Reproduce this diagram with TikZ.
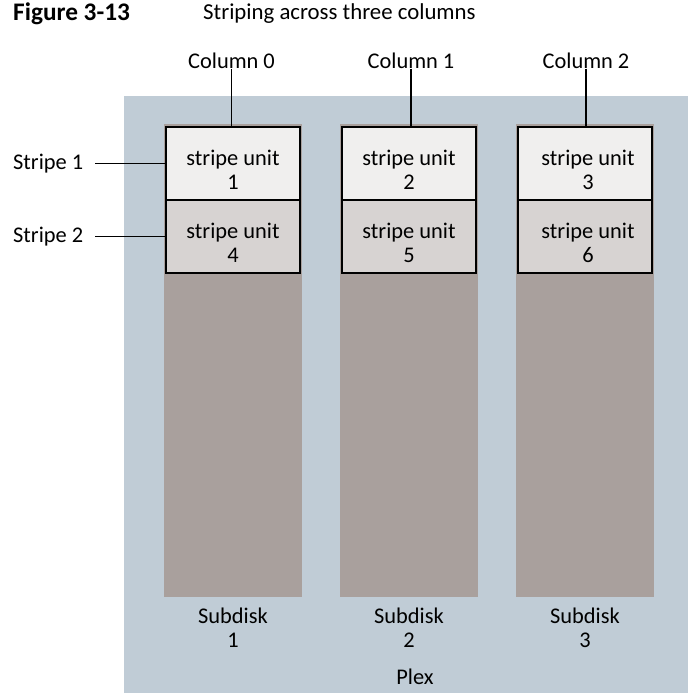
\documentclass[tikz,border=0pt]{standalone}
\usepackage{fontspec}
\setmainfont{Carlito}
\begin{document}
\begin{tikzpicture}[x=1pt, y=-1pt,
	lbl/.style={font=\fontsize{22.4}{24}\selectfont, inner sep=0pt, align=center},
	unitbox/.style={shape=rectangle, draw=black, line width=2.2pt, minimum width=134pt, minimum height=73pt, inner sep=0pt},
	unitA/.style={unitbox, fill=unitlight},
	unitB/.style={unitbox, fill=unitdark},
	subdisk/.style={shape=rectangle, fill=diskgray, minimum width=138pt, minimum height=473pt, inner sep=0pt},
	wire/.style={draw=black, line width=1.5pt}]
	\definecolor{plexblue}{HTML}{C0CCD6}
	\definecolor{diskgray}{HTML}{A9A09D}
	\definecolor{unitlight}{HTML}{F0EFEE}
	\definecolor{unitdark}{HTML}{D7D3D2}
	\useasboundingbox (0,0) rectangle (688,693);
	% Paths, nodes and wires:
	\node[shape=rectangle, fill=plexblue, minimum width=564pt, minimum height=597pt, inner sep=0pt] (plex) at (406, 394.5){};
	\node[anchor=west, font=\fontsize{25.3}{28}\selectfont\bfseries, inner sep=0pt] (fignum) at (13, 14){Figure 3-13};
	\node[anchor=west, font=\fontsize{22.8}{26}\selectfont, inner sep=0pt] (title) at (203, 14){Striping across three columns};
	\node[subdisk] (disk1) at (233, 360.5){};
	\node[subdisk] (disk2) at (409, 360.5){};
	\node[subdisk] (disk3) at (585, 360.5){};
	\node[unitA] (su1) at (233, 163.5){};
	\node[unitA] (su2) at (409, 163.5){};
	\node[unitA] (su3) at (585, 163.5){};
	\node[unitB] (su4) at (233, 236.5){};
	\node[unitB] (su5) at (409, 236.5){};
	\node[unitB] (su6) at (585, 236.5){};
	\node[lbl] (su1txt) at (233, 170){stripe unit\\1};
	\node[lbl] (su2txt) at (409, 170){stripe unit\\2};
	\node[lbl] (su3txt) at (588, 170){stripe unit\\3};
	\node[lbl] (su4txt) at (233, 243){stripe unit\\4};
	\node[lbl] (su5txt) at (409, 243){stripe unit\\5};
	\node[lbl] (su6txt) at (588, 243){stripe unit\\6};
	\node[lbl] (col0) at (231.5, 60.5){Column 0};
	\node[lbl] (col1) at (411, 60.5){Column 1};
	\node[lbl] (col2) at (586, 60.5){Column 2};
	\node[lbl, anchor=west] (stripe1) at (13, 163.5){Stripe 1};
	\node[lbl, anchor=west] (stripe2) at (13, 236.5){Stripe 2};
	\node[lbl] (sd1) at (233, 628){Subdisk\\1};
	\node[lbl] (sd2) at (409, 628){Subdisk\\2};
	\node[lbl] (sd3) at (585, 628){Subdisk\\3};
	\node[lbl] (plexlbl) at (415, 677){Plex};
	\draw[wire] (col0.south) -- (col0.south |- su1.north);
	\draw[wire] (col1.south) -- (col1.south |- su2.north);
	\draw[wire] (col2.south) -- (col2.south |- su3.north);
	\draw[wire] (stripe1.east) ++(12,0) -- (su1.west);
	\draw[wire] (stripe2.east) ++(12,0) -- (su4.west);
\end{tikzpicture}
\end{document}
